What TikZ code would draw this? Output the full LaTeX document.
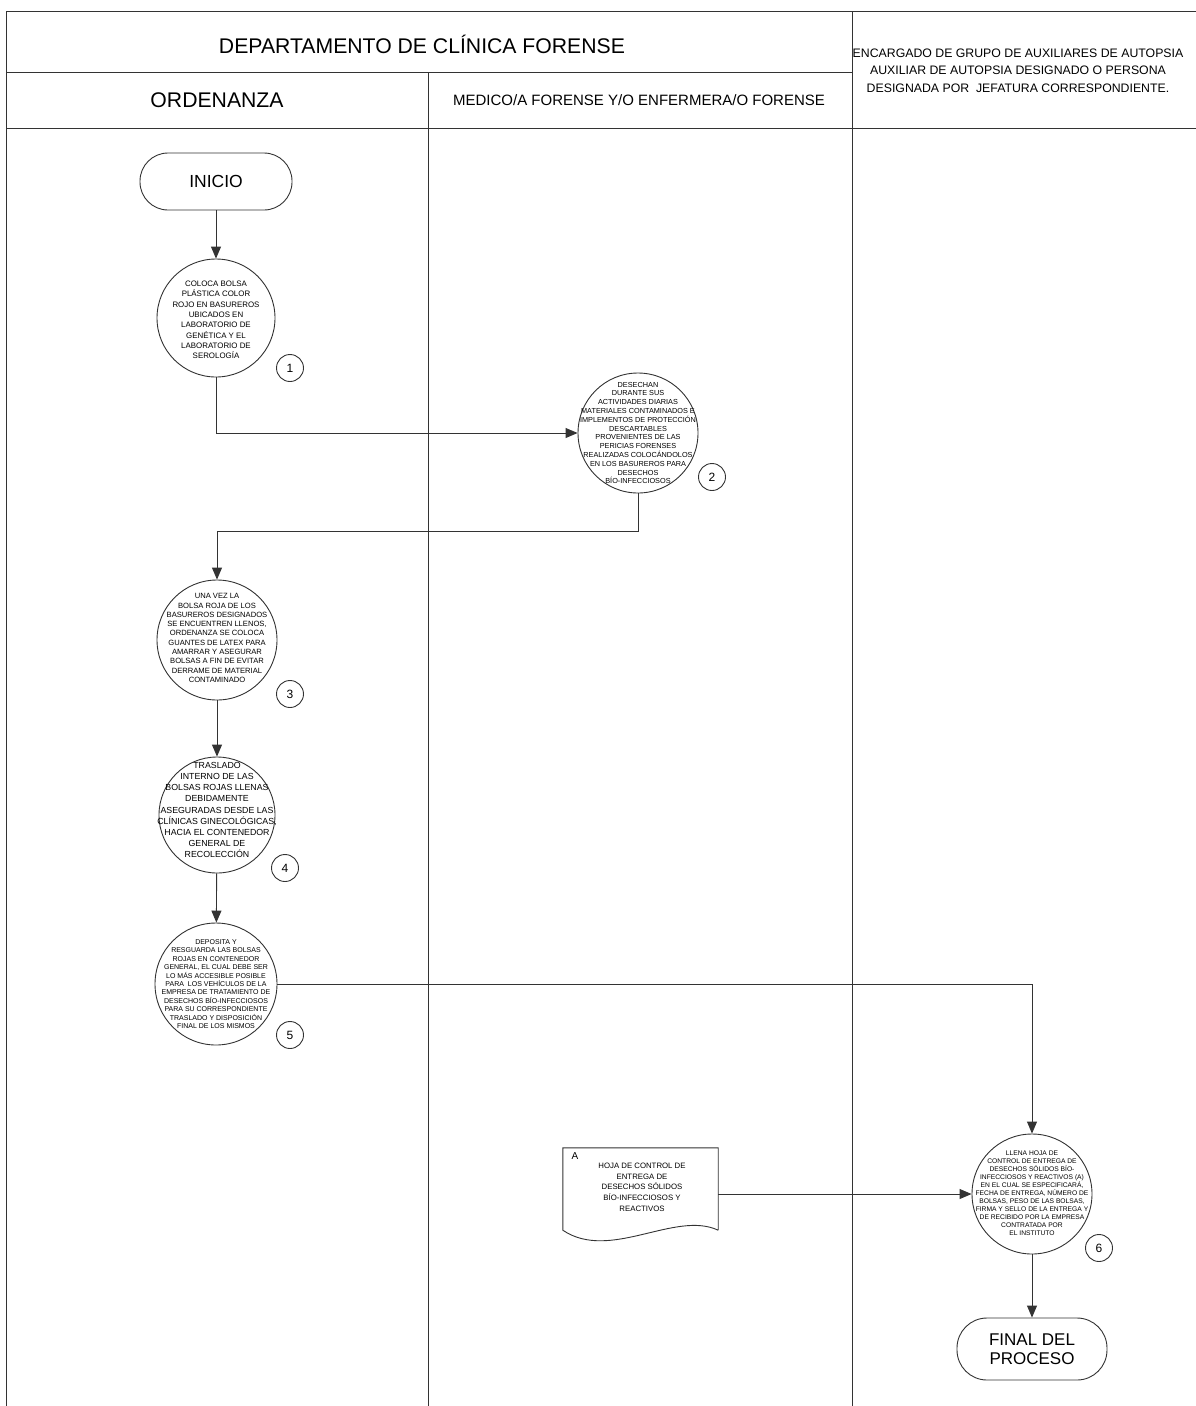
\documentclass[tikz,border=0pt]{standalone}
\usepackage{fontspec}
\setmainfont{Liberation Sans}
\usetikzlibrary{arrows.meta}
\begin{document}
\begin{tikzpicture}[x=1pt,y=-1pt,
  ln/.style={line width=0.9pt, draw=black!80},
  arr/.style={ln, -{Triangle[length=12pt,width=10pt]}},
  proc/.style={circle, ln, minimum size=#1, inner sep=0pt},
  num/.style={circle, ln, minimum size=27pt, inner sep=0pt, font=\fontsize{12}{14}\selectfont},
  term/.style={rectangle, ln, rounded corners=28pt, inner sep=0pt, align=center},
  hdr/.style={inner sep=0pt, align=center}
]
\useasboundingbox (0,0) rectangle (1196,1406);
\fill[white] (0,0) rectangle (1196,1406);

% frame
\draw[ln] (6,11) -- (1196,11);
\draw[ln] (6,11) -- (6,1406);
\draw[ln] (6,72) -- (852,72);
\draw[ln] (6,128) -- (1196,128);
\draw[ln] (428,72) -- (428,1406);
\draw[ln] (852,11) -- (852,1406);

% headers
\node[hdr, font=\fontsize{21.2}{24}\selectfont] (h1) at (422,44) {DEPARTAMENTO DE CLÍNICA FORENSE};
\node[hdr, font=\fontsize{21.2}{24}\selectfont] (h2) at (217,100) {ORDENANZA};
\node[hdr, font=\fontsize{15}{18}\selectfont] (h3) at (639,100) {MEDICO/A FORENSE Y/O ENFERMERA/O FORENSE};
\node[hdr, font=\fontsize{12.3}{17.5}\selectfont] (h4) at (1018,70.5) {ENCARGADO DE GRUPO DE AUXILIARES DE AUTOPSIA\\AUXILIAR DE AUTOPSIA DESIGNADO O PERSONA\\DESIGNADA POR \ JEFATURA CORRESPONDIENTE.};

% terminators
\node[term, minimum width=152pt, minimum height=57pt, font=\fontsize{17.5}{21}\selectfont] (ini) at (216,181.5) {INICIO};
\node[term, minimum width=150pt, minimum height=62pt, rounded corners=30pt, font=\fontsize{17}{19.5}\selectfont] (fin) at (1032,1349) {FINAL DEL\\PROCESO};

% process circles
\node[proc=118pt] (c1) at (216,318) {};
\node[proc=120pt] (c2) at (638,433) {};
\node[proc=120pt] (c3) at (217,640) {};
\node[proc=116pt] (c4) at (217,815) {};
\node[proc=122pt] (c5) at (216,984) {};
\node[proc=120pt] (c6) at (1032,1194) {};

\node[align=center, inner sep=0pt, font=\fontsize{7.9}{10.3}\selectfont] (t1) at (216,320) {COLOCA BOLSA\\PLÁSTICA COLOR\\ROJO EN BASUREROS\\UBICADOS EN\\LABORATORIO DE\\GENÉTICA Y EL\\LABORATORIO DE\\SEROLOGÍA};
\node[align=center, inner sep=0pt, font=\fontsize{7.3}{8.8}\selectfont] (t2) at (638,433) {DESECHAN\\DURANTE SUS\\ACTIVIDADES DIARIAS\\MATERIALES CONTAMINADOS E\\IMPLEMENTOS DE PROTECCIÓN\\DESCARTABLES\\PROVENIENTES DE LAS\\PERICIAS FORENSES\\REALIZADAS COLOCÁNDOLOS\\EN LOS BASUREROS PARA\\DESECHOS\\BÍO-INFECCIOSOS};
\node[align=center, inner sep=0pt, font=\fontsize{7.6}{9.3}\selectfont] (t3) at (217,638) {UNA VEZ LA\\BOLSA ROJA DE LOS\\BASUREROS DESIGNADOS\\SE ENCUENTREN LLENOS,\\ORDENANZA SE COLOCA\\GUANTES DE LATEX PARA\\AMARRAR Y ASEGURAR\\BOLSAS A FIN DE EVITAR\\DERRAME DE MATERIAL\\CONTAMINADO};
\node[align=center, inner sep=0pt, font=\fontsize{8.8}{11.1}\selectfont] (t4) at (217,810) {TRASLADO\\INTERNO DE LAS\\BOLSAS ROJAS LLENAS\\DEBIDAMENTE\\ASEGURADAS DESDE LAS\\CLÍNICAS GINECOLÓGICAS,\\HACIA EL CONTENEDOR\\GENERAL DE\\RECOLECCIÓN};
\node[align=center, inner sep=0pt, font=\fontsize{7.0}{8.4}\selectfont] (t5) at (216,984) {DEPOSITA Y\\RESGUARDA LAS BOLSAS\\ROJAS EN CONTENEDOR\\GENERAL, EL CUAL DEBE SER\\LO MÁS ACCESIBLE POSIBLE\\PARA \ LOS VEHÍCULOS DE LA\\EMPRESA DE TRATAMIENTO DE\\DESECHOS BÍO-INFECCIOSOS\\PARA SU CORRESPONDIENTE\\TRASLADO Y DISPOSICIÓN\\FINAL DE LOS MISMOS};
\node[align=center, inner sep=0pt, font=\fontsize{6.7}{8}\selectfont] (t6) at (1032,1193) {LLENA HOJA DE\\CONTROL DE ENTREGA DE\\DESECHOS SÓLIDOS BÍO-\\INFECCIOSOS Y REACTIVOS (A)\\EN EL CUAL SE ESPECIFICARÁ,\\FECHA DE ENTREGA, NÚMERO DE\\BOLSAS, PESO DE LAS BOLSAS,\\FIRMA Y SELLO DE LA ENTREGA Y\\DE RECIBIDO POR LA EMPRESA\\CONTRATADA POR\\EL INSTITUTO};

% step numbers
\node[num] (n1) at (290,368) {1};
\node[num] (n2) at (712,477) {2};
\node[num] (n3) at (290,694) {3};
\node[num] (n4) at (285,868) {4};
\node[num] (n5) at (290,1035) {5};
\node[num] (n6) at (1099,1248) {6};

% document
\node[inner sep=0pt, minimum width=155pt, minimum height=82pt] (doc) at (640.5,1189) {};
\draw[ln] (doc.south east) -- (doc.north east) -- (doc.north west) -- (doc.south west)
  .. controls (610,1262) and (675,1210) .. (doc.south east);
\node[anchor=center, inner sep=0pt, font=\fontsize{10}{12}\selectfont] (docA) at (575,1156) {A};
\node[align=center, inner sep=0pt, font=\fontsize{7.8}{10.7}\selectfont] (doct) at (642,1187) {HOJA DE CONTROL DE\\ENTREGA DE\\DESECHOS SÓLIDOS\\BÍO-INFECCIOSOS Y\\REACTIVOS};

% connectors
\draw[arr] (ini) -- (c1);
\draw[arr] (c1.south) |- (c2.west);
\coordinate (b2) at (638,531);
\draw[arr] (c2.south) -- (b2) -| (c3.north);
\draw[arr] (c3) -- (c4);
\draw[arr] (c4) -- (c5);
\draw[arr] (c5.east) -| (c6.north);
\draw[arr] (doc.east |- c6.west) -- (c6.west);
\draw[arr] (c6) -- (fin);
\end{tikzpicture}
\end{document}
